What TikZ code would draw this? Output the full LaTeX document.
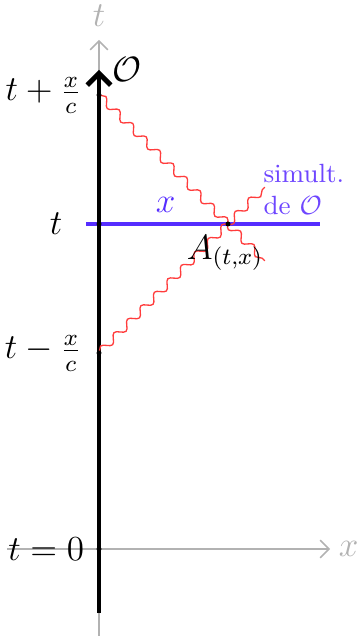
\documentclass[tikz,border=0pt]{standalone}
\usepackage{tikz}
\usetikzlibrary{arrows.meta,decorations.pathmorphing,positioning}
\definecolor{simulblue}{RGB}{85,45,255}
\definecolor{labelblue}{RGB}{110,70,255}
\definecolor{photonred}{RGB}{255,60,60}

\begin{document}
\begin{tikzpicture}[
  axis/.style={gray!60, line width=0.5pt, -{Straight Barb[length=3pt]}},
  worldline/.style={black, line width=1.7pt, -{Straight Barb[length=4pt]}},
  simul/.style={simulblue, line width=1.3pt},
  photon/.style={photonred, line width=0.45pt, decorate, decoration={snake, segment length=6.5pt, amplitude=1.3pt}},
  lab/.style={inner sep=2pt, font=\large},
  simul label/.style={labelblue, font=\small, align=left}
]
  \useasboundingbox (-1.188,-1.044) rectangle (3.144,6.588);
  % axes
  \coordinate (xl) at (-1.104,0);
  \coordinate (xr) at (2.772,0);
  \coordinate (tb) at (0,-1.044);
  \coordinate (tt) at (0,6.108);
  \draw[axis] (xl) -- (xr) node[lab, right=0.026cm] (xlab) {$x$};
  \draw[axis] (tb) -- (tt) node[lab, above=0.086cm] (tlab) {$t$};
  % world line of O
  \coordinate (Wb) at (0,-0.768);
  \coordinate (Wt) at (0,5.75);
  \draw[worldline] (Wb) -- (Wt);
  \node[lab, right=0.086cm of Wt] (Olab) {$\mathcal{O}$};
  % events
  \coordinate (O)  at (0,0);
  \coordinate (Tm) at (0,2.352);
  \coordinate (T)  at (0,3.9);
  \coordinate (Tp) at (0,5.448);
  \coordinate (A)  at (1.548,3.9);
  \coordinate (E1) at (1.99,3.458);
  \coordinate (E2) at (1.99,4.342);
  % simultaneity line
  \coordinate (Bl) at (-0.156,3.9);
  \coordinate (Br) at (2.652,3.9);
  \draw[simul] (Bl) -- node[lab, pos=0.34, above=0.05cm] (xdist) {$x$} (Br);
  \node[simul label, anchor=west] (sim) at (1.85,4.31) {simult.\\ de $\mathcal{O}$};
  % light signals
  \draw[photon] (Tp) -- (E1);
  \draw[photon] (Tm) -- (E2);
  \foreach \ev in {O,Tm,T,Tp,A}
    \fill (\ev) circle (0.03);
  \node[lab, below=0.06cm of A, xshift=-1pt] (Alab) {$A_{(t,x)}$};
  % time labels
  \node[lab, left=0.134cm of Tp] (ltp) {$t+\frac{x}{c}$};
  \node[lab, left=0.206cm of Bl] (lt) {$t$};
  \node[lab, left=0.134cm of Tm] (ltm) {$t-\frac{x}{c}$};
  \node[lab, left=0.1cm of O] (lt0) {$t=0$};
\end{tikzpicture}
\end{document}
